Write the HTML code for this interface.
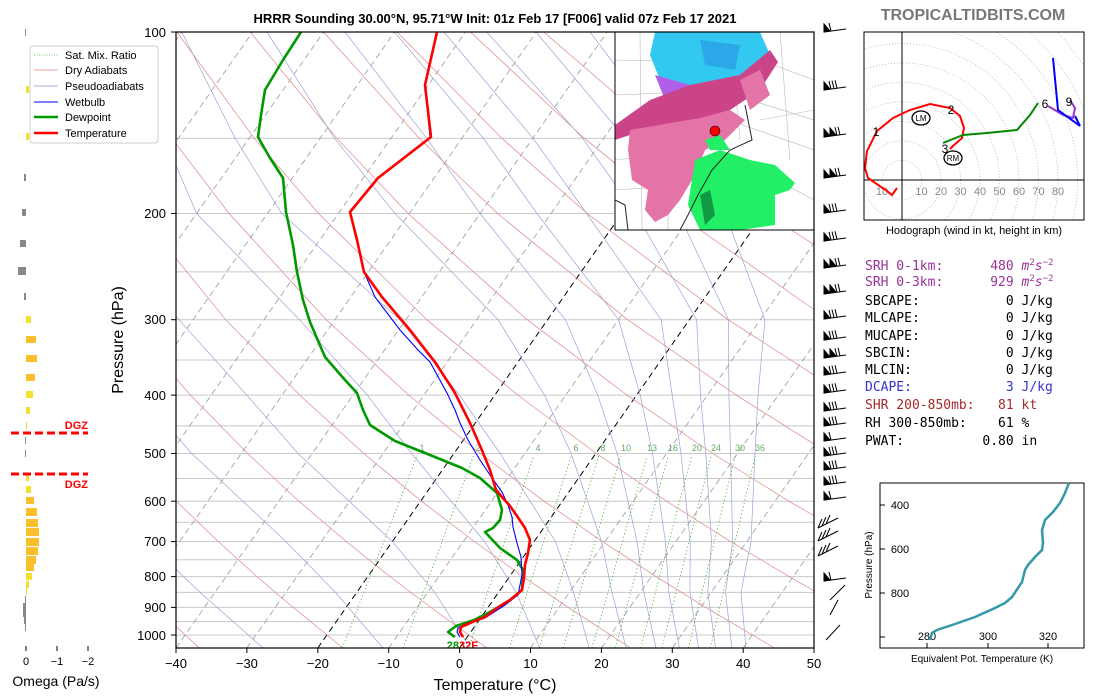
<!DOCTYPE html>
<html><head><meta charset="utf-8"><style>
body{margin:0;background:#fff;}
svg{display:block;font-family:"Liberation Sans","DejaVu Sans",sans-serif;}
</style></head><body>
<svg width="1100" height="700" viewBox="0 0 1100 700" xmlns="http://www.w3.org/2000/svg" xmlns:xlink="http://www.w3.org/1999/xlink">
<defs>
<clipPath id="cp"><rect x="176" y="32" width="638" height="616"/></clipPath>
<clipPath id="hc"><rect x="864" y="32" width="220" height="188"/></clipPath>
<clipPath id="mc"><rect x="615" y="32" width="199" height="198"/></clipPath>
<g id="bA"><line x1="0" y1="0" x2="22" y2="-3"/><polygon points="0,0 6,-1 0,-8"/><line x1="7" y1="-1" x2="5" y2="-9"/><line x1="10" y1="-1.4" x2="8" y2="-9.4"/><line x1="13" y1="-1.8" x2="11" y2="-9.8"/></g>
<g id="bB"><line x1="0" y1="0" x2="22" y2="-3"/><polygon points="0,0 6,-1 0,-8"/><polygon points="6,-1 12,-2 6,-9"/><line x1="13" y1="-1.8" x2="11" y2="-9.8"/><line x1="16" y1="-2.2" x2="14" y2="-10.2"/></g>
<g id="bC"><line x1="0" y1="0" x2="22" y2="-3"/><polygon points="0,0 6,-1 0,-8"/><line x1="7" y1="-1" x2="5" y2="-9"/></g>
<g id="bD"><line x1="0" y1="0" x2="20" y2="-10"/><line x1="0" y1="0" x2="4" y2="-9"/><line x1="4" y1="-2" x2="8" y2="-11"/><line x1="8" y1="-4" x2="12" y2="-13"/></g>
</defs>
<rect width="1100" height="700" fill="#fff"/>
<g clip-path="url(#cp)">
<!-- pressure lines -->
<g stroke="#c8c8c8" stroke-width="1">
<line x1="176" x2="814" y1="32" y2="32"/><line x1="176" x2="814" y1="138.2" y2="138.2"/><line x1="176" x2="814" y1="213.5" y2="213.5"/><line x1="176" x2="814" y1="271.9" y2="271.9"/><line x1="176" x2="814" y1="319.7" y2="319.7"/><line x1="176" x2="814" y1="360" y2="360"/><line x1="176" x2="814" y1="395.1" y2="395.1"/><line x1="176" x2="814" y1="425.9" y2="425.9"/><line x1="176" x2="814" y1="453.5" y2="453.5"/><line x1="176" x2="814" y1="478.5" y2="478.5"/><line x1="176" x2="814" y1="501.2" y2="501.2"/><line x1="176" x2="814" y1="522.2" y2="522.2"/><line x1="176" x2="814" y1="541.6" y2="541.6"/><line x1="176" x2="814" y1="559.7" y2="559.7"/><line x1="176" x2="814" y1="576.6" y2="576.6"/><line x1="176" x2="814" y1="592.4" y2="592.4"/><line x1="176" x2="814" y1="607.4" y2="607.4"/><line x1="176" x2="814" y1="621.6" y2="621.6"/><line x1="176" x2="814" y1="635" y2="635"/>
</g>
<!-- isotherms -->
<g stroke="#999" stroke-width="0.8" stroke-dasharray="6,4">
<line x1="-249.4" y1="648" x2="181.8" y2="32"/><line x1="-178.5" y1="648" x2="252.7" y2="32"/><line x1="-107.6" y1="648" x2="323.6" y2="32"/><line x1="-36.7" y1="648" x2="394.5" y2="32"/><line x1="34.2" y1="648" x2="465.4" y2="32"/><line x1="105.1" y1="648" x2="536.3" y2="32"/><line x1="176" y1="648" x2="607.2" y2="32"/><line x1="246.9" y1="648" x2="678.1" y2="32"/><line x1="388.7" y1="648" x2="819.9" y2="32"/><line x1="530.5" y1="648" x2="961.7" y2="32"/><line x1="601.4" y1="648" x2="1032.6" y2="32"/><line x1="672.3" y1="648" x2="1103.5" y2="32"/><line x1="743.2" y1="648" x2="1174.4" y2="32"/>
</g>
<g stroke="#000" stroke-width="1" stroke-dasharray="6,4">
<line x1="317.8" y1="648" x2="749" y2="32"/><line x1="459.6" y1="648" x2="890.8" y2="32"/>
</g>
<!-- dry adiabats -->
<g stroke="#d88" stroke-width="0.7" fill="none">
<polyline points="199.3,648 155.5,607.4 124,576.6 90.3,541.6 53.9,501.2 15,453.5"/>
<polyline points="343,648 293.1,607.4 257,576.6 218.4,541.6 176.4,501.2 131.3,453.5 81.4,395.1"/>
<polyline points="486.8,648 430.7,607.4 390,576.6 346.4,541.6 298.9,501.2 247.6,453.5 190.5,395.1 125.2,319.7"/>
<polyline points="630.6,648 568.2,607.4 523.1,576.6 474.5,541.6 421.4,501.2 363.8,453.5 299.7,395.1 225.7,319.7 139.5,213.5"/>
<polyline points="774.4,648 705.8,607.4 656.1,576.6 602.5,541.6 544,501.2 480.1,453.5 408.8,395.1 326.2,319.7 229.1,213.5 171.7,138.2"/>
<polyline points="918.3,648 843.4,607.4 789.1,576.6 730.6,541.6 666.5,501.2 596.4,453.5 517.9,395.1 426.7,319.7 318.6,213.5 254.2,138.2 176.8,32"/>
<polyline points="981,607.4 922.2,576.6 858.6,541.6 788.9,501.2 712.7,453.5 627,395.1 527.2,319.7 408.1,213.5 336.7,138.2 250.2,32"/>
<polyline points="986.7,541.6 911.5,501.2 829,453.5 736.2,395.1 627.6,319.7 497.6,213.5 419.2,138.2 323.6,32"/>
<polyline points="1034,501.2 945.3,453.5 845.3,395.1 728.1,319.7 587.2,213.5 501.7,138.2 397,32"/>
<polyline points="1061.6,453.5 954.4,395.1 828.6,319.7 676.7,213.5 584.2,138.2 470.4,32"/>
<polyline points="1063.6,395.1 929.1,319.7 766.2,213.5 666.7,138.2 543.8,32"/>
<polyline points="1029.6,319.7 855.8,213.5 749.3,138.2 617.2,32"/>
<polyline points="945.3,213.5 831.7,138.2 690.6,32"/>
<polyline points="1034.8,213.5 914.2,138.2 764,32"/>
<polyline points="996.7,138.2 837.4,32"/>
</g>
<!-- moist adiabats -->
<g stroke="#a0a0d8" stroke-width="0.7" fill="none">
<polyline points="120,648 90,607 60,560 20,500"/>
<polyline points="263.2,648 200,592.4 147.1,541.6 67,453.5 20.6,395.1"/>
<polyline points="383,648 335.5,592.4 286,541.6 191.8,453.5 140.4,395.1 72.7,319.7"/>
<polyline points="470.2,648 434.8,592.4 392.4,541.6 298.1,453.5 246.7,395.1 179,319.7 69,213.5"/>
<polyline points="539.7,648 516.3,592.4 484.6,541.6 411.6,453.5 367.3,395.1 299.5,319.7 196.6,213.5 164.2,138.2 62.7,32"/>
<polyline points="589.3,648 573.5,592.4 555.5,541.6 500.2,453.5 459.4,395.1 399.8,319.7 281.7,213.5 235.1,138.2 181.8,32"/>
<polyline points="626.2,648 612,592.4 601.6,541.6 571.1,453.5 544.5,395.1 498.1,319.7 395.1,213.5 334.4,138.2 267,32"/>
<polyline points="656,648 643.9,592.4 637,541.6 617.2,453.5 597.7,395.1 565.4,319.7 480.1,213.5 426.5,138.2 345,32"/>
<polyline points="679.4,648 668.8,592.4 665.4,541.6 652.6,453.5 640.2,395.1 618.6,319.7 537,213.5 483.3,138.2 394.5,32"/>
<polyline points="698.5,648 690,592.4 690.2,541.6 681,453.5 672.2,395.1 661.1,319.7 586.6,213.5 533,138.2 444,32"/>
<polyline points="715.6,648 707.8,592.4 711.5,541.6 705.8,453.5 700.5,395.1 696.6,319.7 636,213.5 582.5,138.2 486.7,32"/>
<polyline points="731.9,648 725.5,592.4 732.7,541.6 730.6,453.5 728.9,395.1 728.5,319.7 678.7,213.5 625,138.2 536,32"/>
<polyline points="746,648 741,592.4 751,541.6 755,453.5 758,395.1 765,319.7 725,213.5 670,138.2 590,32"/>
</g>
<!-- mixing ratio -->
<g stroke="#3a3" stroke-width="0.8" stroke-dasharray="1.2,2.5" fill="none">
<line x1="342.3" y1="648" x2="416.9" y2="456"/><line x1="403.2" y1="648" x2="473.3" y2="456"/><line x1="468.7" y1="648" x2="533.8" y2="456"/><line x1="509.4" y1="648" x2="571.2" y2="456"/><line x1="539.3" y1="648" x2="598.7" y2="456"/><line x1="563.2" y1="648" x2="620.6" y2="456"/><line x1="591.9" y1="648" x2="647" y2="456"/><line x1="615.2" y1="648" x2="668.3" y2="456"/><line x1="640.7" y1="648" x2="691.6" y2="456"/><line x1="661.9" y1="648" x2="711" y2="456"/><line x1="688.4" y1="648" x2="735.1" y2="456"/><line x1="710.3" y1="648" x2="755.2" y2="456"/>
</g>
<g font-size="9" fill="#6a6" text-anchor="middle">
<text x="422" y="451">1</text><text x="478" y="451">2</text><text x="538" y="451">4</text><text x="576" y="451">6</text><text x="603" y="451">8</text><text x="626" y="451">10</text><text x="652" y="451">13</text><text x="673" y="451">16</text><text x="697" y="451">20</text><text x="716" y="451">24</text><text x="740" y="451">30</text><text x="760" y="451">36</text>
</g>
<!-- profiles -->
<polyline fill="none" stroke="#090" stroke-width="2.6" stroke-linejoin="round" points="301,32 283,60 265,90 261,115 258,137 270,158 283,178 286,212 293,245 297,272 303,300 310,322 325,357 345,380 357,393 363,410 370,425 395,441 430,455 462,468 480,478 497,493 502,510 500,520 493,528 485,532 500,548 517,560 523,570 522,590 510,600 490,612 474,620 456,626 448,632 455,637"/>
<polyline fill="none" stroke="#00f" stroke-width="1.1" points="437,32 425,85 430,137 378,178 350,212 357,240 364,272 375,297 400,330 418,350 430,362 447,393 455,410 460,423 468,440 480,460 492,478 502,492 508,505 512,517 513,527 517,543 521,557 522,575 518,595 505,605 485,618 466,624 458,628 457,632 460,637"/>
<polyline fill="none" stroke="#f00" stroke-width="2.6" stroke-linejoin="round" points="437,32 425,85 431,137 378,178 350,212 357,240 364,272 382,297 410,330 435,362 455,393 470,423 481,448 490,470 496,490 502,497 510,506 517,516 525,528 530,540 528,553 525,565 524,578 522,590 510,600 500,606 485,617 470,623 461,627 460,632 463,637"/>
<text x="459" y="649" font-size="11" font-weight="bold" fill="#090" text-anchor="end">28</text>
<text x="459" y="649" font-size="11" font-weight="bold" fill="#f00">32F</text>
</g>
<!-- map inset -->
<g clip-path="url(#mc)">
<rect x="615" y="32" width="199" height="198" fill="#fff"/>
<g stroke="#bbb" stroke-width="0.6" fill="none">
<path d="M615 60 L700 62 M615 95 L690 92 M640 32 L642 230 M670 32 L668 230 M615 160 L700 150 M615 190 L690 185 M730 32 L740 140 M760 60 L814 80 M750 100 L814 120 M780 32 L790 160 M700 110 L814 150 M760 120 L814 110 M740 160 L814 200"/>
</g>
<path d="M655 32 L760 32 L770 55 L750 80 L720 95 L690 92 L660 80 L650 55Z" fill="#33c8f0"/>
<path d="M700 40 L740 45 L735 70 L705 65Z" fill="#2aa8e8"/>
<path d="M655 75 L690 85 L720 95 L700 105 L665 100Z" fill="#b060e8"/>
<path d="M615 125 L650 100 L690 85 L740 75 L770 50 L778 62 L760 90 L730 110 L700 125 L660 130 L630 135 L615 140Z" fill="#cc4488"/>
<path d="M630 130 L700 118 L730 110 L745 120 L725 140 L705 150 L695 175 L680 200 L668 215 L655 222 L645 210 L648 190 L632 180 L628 150Z" fill="#e474a8"/>
<path d="M740 80 L760 70 L770 95 L750 110Z" fill="#e474a8"/>
<path d="M695 160 L720 150 L750 160 L775 165 L795 183 L790 190 L775 195 L775 225 L740 230 L700 230 L688 205Z" fill="#22ee66"/>
<path d="M705 140 L720 135 L730 150 L710 150Z" fill="#22ee66"/>
<path d="M700 195 L710 190 L715 215 L705 225Z" fill="#119944"/>
<path d="M745 105 L752 140 L730 150 L712 170 L698 195 L688 215 L680 230" stroke="#222" stroke-width="1" fill="none"/>
<path d="M615 200 L625 205 L628 230" stroke="#222" stroke-width="1" fill="none"/>
<circle cx="715" cy="131" r="5" fill="#f00" stroke="#000" stroke-width="0.6"/>
</g>
<rect x="615" y="32" width="199" height="198" fill="none" stroke="#000" stroke-width="1"/>
<rect x="176" y="32" width="638" height="616" fill="none" stroke="#000" stroke-width="1.2"/>
<!-- ticks -->
<g stroke="#000">
<line x1="171" x2="176" y1="32" y2="32"/><line x1="171" x2="176" y1="213.5" y2="213.5"/><line x1="171" x2="176" y1="319.7" y2="319.7"/><line x1="171" x2="176" y1="395.1" y2="395.1"/><line x1="171" x2="176" y1="453.5" y2="453.5"/><line x1="171" x2="176" y1="501.2" y2="501.2"/><line x1="171" x2="176" y1="541.6" y2="541.6"/><line x1="171" x2="176" y1="576.6" y2="576.6"/><line x1="171" x2="176" y1="607.4" y2="607.4"/><line x1="171" x2="176" y1="635" y2="635"/>
<line x1="176" x2="176" y1="648" y2="653"/><line x1="246.9" x2="246.9" y1="648" y2="653"/><line x1="317.8" x2="317.8" y1="648" y2="653"/><line x1="388.7" x2="388.7" y1="648" y2="653"/><line x1="459.6" x2="459.6" y1="648" y2="653"/><line x1="530.5" x2="530.5" y1="648" y2="653"/><line x1="601.4" x2="601.4" y1="648" y2="653"/><line x1="672.3" x2="672.3" y1="648" y2="653"/><line x1="743.2" x2="743.2" y1="648" y2="653"/><line x1="814" x2="814" y1="648" y2="653"/>
</g>
<g font-size="13" text-anchor="end">
<text x="166" y="37">100</text><text x="166" y="218">200</text><text x="166" y="324">300</text><text x="166" y="400">400</text><text x="166" y="458">500</text><text x="166" y="506">600</text><text x="166" y="546">700</text><text x="166" y="581">800</text><text x="166" y="612">900</text><text x="166" y="640">1000</text>
</g>
<g font-size="13" text-anchor="middle">
<text x="176" y="668">−40</text><text x="246.9" y="668">−30</text><text x="317.8" y="668">−20</text><text x="388.7" y="668">−10</text><text x="459.6" y="668">0</text><text x="530.5" y="668">10</text><text x="601.4" y="668">20</text><text x="672.3" y="668">30</text><text x="743.2" y="668">40</text><text x="814" y="668">50</text>
</g>
<!-- barbs -->
<g stroke="#000" stroke-width="1" fill="#000">
<use xlink:href="#bC" x="824" y="32"/><use xlink:href="#bA" x="824" y="90"/><use xlink:href="#bB" x="824" y="137"/><use xlink:href="#bB" x="824" y="178"/><use xlink:href="#bA" x="824" y="213"/><use xlink:href="#bA" x="824" y="241"/><use xlink:href="#bB" x="824" y="268"/><use xlink:href="#bB" x="824" y="294"/><use xlink:href="#bA" x="824" y="319"/><use xlink:href="#bA" x="824" y="340"/><use xlink:href="#bB" x="824" y="358"/><use xlink:href="#bA" x="824" y="375"/><use xlink:href="#bA" x="824" y="393"/><use xlink:href="#bA" x="824" y="411"/><use xlink:href="#bA" x="824" y="426"/><use xlink:href="#bC" x="824" y="441"/><use xlink:href="#bA" x="824" y="456"/><use xlink:href="#bA" x="824" y="470"/><use xlink:href="#bA" x="824" y="485"/><use xlink:href="#bC" x="824" y="500"/><use xlink:href="#bD" x="818" y="528"/><use xlink:href="#bD" x="818" y="541"/><use xlink:href="#bD" x="818" y="556"/><use xlink:href="#bC" x="824" y="581"/>
<line x1="830" y1="600" x2="845" y2="585"/><line x1="830" y1="615" x2="838" y2="600"/><line x1="826" y1="640" x2="840" y2="625"/>
</g>
<!-- omega -->
<g stroke="#000"><line x1="26" x2="26" y1="646" y2="651"/><line x1="57" x2="57" y1="646" y2="651"/><line x1="88" x2="88" y1="646" y2="651"/></g>
<g font-size="11" text-anchor="middle"><text x="26" y="665">0</text><text x="57" y="665">−1</text><text x="88" y="665">−2</text></g>
<g>
<rect x="25" y="29" width="1" height="7" fill="#888"/>
<rect x="26" y="86" width="3" height="7" fill="#f0e030"/><rect x="26" y="133" width="3" height="7" fill="#f0e030"/>
<rect x="24" y="174" width="2" height="7" fill="#888"/><rect x="22" y="209" width="4" height="7" fill="#888"/><rect x="20" y="240" width="6" height="7" fill="#888"/><rect x="18" y="267" width="8" height="8" fill="#888"/><rect x="24" y="293" width="2" height="7" fill="#888"/>
<rect x="26" y="316" width="5" height="7" fill="#f0e030"/><rect x="26" y="336" width="10" height="7" fill="#fbbf2c"/><rect x="26" y="355" width="11" height="7" fill="#fbbf2c"/><rect x="26" y="374" width="9" height="7" fill="#fbbf2c"/><rect x="26" y="391" width="7" height="7" fill="#f0e030"/><rect x="26" y="407" width="4" height="7" fill="#f0e030"/><rect x="26" y="422" width="1" height="7" fill="#f0e030"/>
<rect x="25" y="437" width="1" height="7" fill="#888"/><rect x="25" y="450" width="1" height="7" fill="#888"/>
<rect x="26" y="474" width="3" height="7" fill="#f0e030"/><rect x="26" y="486" width="5" height="7" fill="#f0e030"/><rect x="26" y="497" width="8" height="7" fill="#fbbf2c"/><rect x="26" y="508" width="11" height="8" fill="#fbbf2c"/><rect x="26" y="519" width="12" height="8" fill="#fbbf2c"/><rect x="26" y="528" width="13" height="8" fill="#fbbf2c"/><rect x="26" y="538" width="13" height="8" fill="#fbbf2c"/><rect x="26" y="547" width="12" height="8" fill="#fbbf2c"/><rect x="26" y="556" width="10" height="8" fill="#fbbf2c"/><rect x="26" y="564" width="8" height="7" fill="#fbbf2c"/><rect x="26" y="573" width="6" height="7" fill="#f0e030"/><rect x="26" y="581" width="3" height="7" fill="#f0e030"/><rect x="26" y="588" width="1" height="7" fill="#f0e030"/>
<rect x="25" y="596" width="1" height="7" fill="#888"/><rect x="23" y="603" width="3" height="7" fill="#888"/><rect x="23" y="610" width="3" height="7" fill="#888"/><rect x="24" y="617" width="2" height="7" fill="#888"/><rect x="25" y="624" width="1" height="7" fill="#888"/>
</g>
<g stroke="#f00" stroke-width="3" stroke-dasharray="8,4"><line x1="11" x2="88" y1="433" y2="433"/><line x1="11" x2="88" y1="474" y2="474"/></g>
<g font-size="11" font-weight="bold" fill="#f00" text-anchor="end"><text x="88" y="429">DGZ</text><text x="88" y="488">DGZ</text></g>
<!-- legend -->
<g font-size="11">
<rect x="30" y="46" width="128" height="97" rx="3" fill="#fff" stroke="#ccc"/>
<line x1="34" y1="55" x2="58" y2="55" stroke="#4a4" stroke-dasharray="1,1.5" stroke-width="0.8"/>
<line x1="34" y1="70" x2="58" y2="70" stroke="#e8a0a0"/>
<line x1="34" y1="86" x2="58" y2="86" stroke="#a8a8e0"/>
<line x1="34" y1="102" x2="58" y2="102" stroke="#00f"/>
<line x1="34" y1="117" x2="58" y2="117" stroke="#090" stroke-width="2.5"/>
<line x1="34" y1="133" x2="58" y2="133" stroke="#f00" stroke-width="2.5"/>
<text x="65" y="59">Sat. Mix. Ratio</text><text x="65" y="74">Dry Adiabats</text><text x="65" y="90">Pseudoadiabats</text><text x="65" y="106">Wetbulb</text><text x="65" y="121">Dewpoint</text><text x="65" y="137">Temperature</text>
</g>
<text x="495" y="23" text-anchor="middle" font-size="13" font-weight="bold">HRRR Sounding 30.00°N, 95.71°W Init: 01z Feb 17 [F006] valid 07z Feb 17 2021</text>
<text x="973" y="20" text-anchor="middle" font-size="16" font-weight="bold" fill="#777">TROPICALTIDBITS.COM</text>
<text transform="translate(123,340) rotate(-90)" text-anchor="middle" font-size="16">Pressure (hPa)</text>
<text x="495" y="690" text-anchor="middle" font-size="16">Temperature (°C)</text>
<text x="56" y="686" text-anchor="middle" font-size="14">Omega (Pa/s)</text>
<!-- hodograph -->
<g clip-path="url(#hc)">
<g fill="none" stroke="#aaa" stroke-width="0.7" stroke-dasharray="1,2">
<circle cx="902" cy="180" r="19.5"/><circle cx="902" cy="180" r="39"/><circle cx="902" cy="180" r="58.5"/><circle cx="902" cy="180" r="78"/><circle cx="902" cy="180" r="97.5"/><circle cx="902" cy="180" r="117"/><circle cx="902" cy="180" r="136.5"/><circle cx="902" cy="180" r="156"/><circle cx="902" cy="180" r="175.5"/><circle cx="902" cy="180" r="195"/><circle cx="902" cy="180" r="214.5"/><circle cx="902" cy="180" r="234"/>
</g>
<line x1="902" x2="902" y1="32" y2="220" stroke="#000"/><line x1="864" x2="1084" y1="180" y2="180" stroke="#000"/>
<g font-size="11" fill="#888" text-anchor="middle">
<text x="882" y="195">10</text><text x="921.5" y="195">10</text><text x="941" y="195">20</text><text x="960.5" y="195">30</text><text x="980" y="195">40</text><text x="999.5" y="195">50</text><text x="1019" y="195">60</text><text x="1038.5" y="195">70</text><text x="1058" y="195">80</text>
</g>
<polyline fill="none" stroke="#f00" stroke-width="2" points="897,188 892,195 887,191 868,178 865,168 867,151 877,131 893,118 910,110 930,104 950,108 960,116 964,128 962,138 953,146 950,149"/>
<polyline fill="none" stroke="#080" stroke-width="2" points="943,143 963,135 987,133 1017,130 1030,115 1038,103"/>
<polyline fill="none" stroke="#93c" stroke-width="2" points="1048,106 1063,115 1073,118 1075,108 1070,100"/>
<polyline fill="none" stroke="#00f" stroke-width="2" points="1053,58 1058,110 1080,126 1075,116"/>
<g font-size="12" text-anchor="middle"><text x="876" y="136">1</text><text x="951" y="114">2</text><text x="945" y="153">3</text><text x="1045" y="108">6</text><text x="1069" y="106">9</text></g>
<ellipse cx="921" cy="118" rx="9" ry="7" fill="#fff" stroke="#000" stroke-width="1.3"/><text x="921" y="121" font-size="8" text-anchor="middle">LM</text>
<ellipse cx="953" cy="158" rx="9" ry="7" fill="#fff" stroke="#000" stroke-width="1.3"/><text x="953" y="161" font-size="8" text-anchor="middle">RM</text>
</g>
<rect x="864" y="32" width="220" height="188" fill="none" stroke="#000"/>
<text x="974" y="234" text-anchor="middle" font-size="11">Hodograph (wind in kt, height in km)</text>
<!-- text panel -->
<g font-family="'DejaVu Sans Mono','Liberation Mono',monospace" font-size="13">
<text x="865" y="270" fill="#993399" xml:space="preserve">SRH 0-1km:      480 <tspan font-style="italic">m</tspan><tspan font-size="9" dy="-5">2</tspan><tspan dy="5" font-style="italic">s</tspan><tspan font-size="9" dy="-5">−2</tspan></text>
<text x="865" y="286" fill="#993399" xml:space="preserve">SRH 0-3km:      929 <tspan font-style="italic">m</tspan><tspan font-size="9" dy="-5">2</tspan><tspan dy="5" font-style="italic">s</tspan><tspan font-size="9" dy="-5">−2</tspan></text>
<text x="865" y="305" xml:space="preserve">SBCAPE:           0 J/kg</text>
<text x="865" y="322" xml:space="preserve">MLCAPE:           0 J/kg</text>
<text x="865" y="340" xml:space="preserve">MUCAPE:           0 J/kg</text>
<text x="865" y="357" xml:space="preserve">SBCIN:            0 J/kg</text>
<text x="865" y="374" xml:space="preserve">MLCIN:            0 J/kg</text>
<text x="865" y="391" fill="#3333cc" xml:space="preserve">DCAPE:            3 J/kg</text>
<text x="865" y="409" fill="#a52a2a" xml:space="preserve">SHR 200-850mb:   81 kt</text>
<text x="865" y="427" xml:space="preserve">RH 300-850mb:    61 %</text>
<text x="865" y="445" xml:space="preserve">PWAT:          0.80 in</text>
</g>
<!-- theta-e -->
<rect x="880" y="483" width="204" height="165" fill="none" stroke="#000"/>
<g stroke="#000"><line x1="880" y1="505" x2="885" y2="505"/><line x1="880" y1="549" x2="885" y2="549"/><line x1="880" y1="593" x2="885" y2="593"/><line x1="880" y1="637" x2="885" y2="637"/>
<line x1="927" y1="648" x2="927" y2="643"/><line x1="988" y1="648" x2="988" y2="643"/><line x1="1048" y1="648" x2="1048" y2="643"/></g>
<g font-size="11"><text x="900" y="509" text-anchor="middle">400</text><text x="900" y="553" text-anchor="middle">600</text><text x="900" y="597" text-anchor="middle">800</text>
<text x="927" y="640" text-anchor="middle">280</text><text x="988" y="640" text-anchor="middle">300</text><text x="1048" y="640" text-anchor="middle">320</text>
<text x="982" y="662" text-anchor="middle" font-size="10">Equivalent Pot. Temperature (K)</text>
<text transform="translate(872,565) rotate(-90)" text-anchor="middle" font-size="10">Pressure (hPa)</text></g>
<polyline fill="none" stroke="#3399aa" stroke-width="2.5" points="930,640 932,633 937,630 955,624 975,617 995,608 1005,603 1012,597 1018,588 1022,582 1025,570 1028,565 1035,557 1042,550 1043,543 1042,530 1045,520 1053,512 1060,503 1065,493 1069,483"/>
</svg>
</body></html>
